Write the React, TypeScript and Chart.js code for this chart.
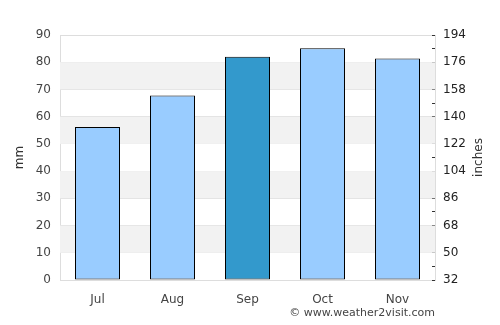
import { useEffect, useRef } from 'react';
import { Chart, registerables } from 'chart.js';
Chart.register(...registerables);

const months = ['Jul', 'Aug', 'Sep', 'Oct', 'Nov'];
const rainfallMm = [56.2, 67.8, 82.0, 85.1, 81.4];
const highlightMonth = 'Sep';
const bandRanges: [number, number][] = [[10, 20], [30, 40], [50, 60], [70, 80]];
const leftMin = 0;
const leftMax = 90;
const leftStep = 10;
const rightMin = 32;
const rightMax = 194;
const rightStep = 9;
const rightLabelStep = 18;
const leftTitle = 'mm';
const rightTitle = 'inches';
const credit = '© www.weather2visit.com';

const FONT = "'DejaVu Sans', sans-serif";

export default function App() {
  const ref = useRef<HTMLCanvasElement | null>(null);
  useEffect(() => {
    if (!ref.current) return;
    const bands = {
      id: 'bands',
      beforeDatasetsDraw(chart: any) {
        const { ctx, chartArea, scales } = chart;
        const y = scales.y;
        ctx.save();
        ctx.fillStyle = '#f2f2f2';
        for (const [a, b] of bandRanges) {
          const y1 = y.getPixelForValue(b);
          const y2 = y.getPixelForValue(a);
          ctx.fillRect(chartArea.left, y1, chartArea.right - chartArea.left, y2 - y1);
        }
        ctx.restore();
      },
    };
    const textPlugin = {
      id: 'texts',
      afterDraw(chart: any) {
        const { ctx, chartArea } = chart;
        ctx.save();
        ctx.font = `11px ${FONT}`;
        ctx.fillStyle = '#444';
        ctx.textAlign = 'right';
        ctx.textBaseline = 'middle';
        ctx.fillText(credit, chartArea.right, 313);
        ctx.restore();
        ctx.save();
        ctx.font = `12px ${FONT}`;
        ctx.fillStyle = '#333';
        ctx.textAlign = 'center';
        ctx.textBaseline = 'middle';
        ctx.translate(479, (chartArea.top + chartArea.bottom) / 2);
        ctx.rotate(-Math.PI / 2);
        ctx.fillText(rightTitle, 0, 0);
        ctx.restore();
      },
    };
    const chart = new Chart(ref.current, {
      type: 'bar',
      data: {
        labels: months,
        datasets: [
          {
            data: rainfallMm,
            backgroundColor: months.map((m) => (m === highlightMonth ? '#3399cc' : '#99ccff')),
            borderColor: '#000',
            borderWidth: 1,
            borderSkipped: false,
            barPercentage: 0.6,
            categoryPercentage: 1,
            yAxisID: 'y',
          },
        ],
      },
      options: {
        animation: false,
        responsive: false,
        layout: { padding: { top: 35, left: 0, right: 0, bottom: 0 } },
        plugins: { legend: { display: false }, tooltip: { enabled: false } },
        scales: {
          x: {
            grid: { display: false },
            border: { display: false },
            ticks: { color: '#444', font: { family: FONT, size: 12 }, padding: 5 },
            afterFit(s: any) { s.height = 45; },
          },
          y: {
            position: 'left',
            min: leftMin,
            max: leftMax,
            grid: { color: '#dddddd', drawTicks: false },
            border: { display: true, color: '#dddddd' },
            ticks: { stepSize: leftStep, color: '#444', font: { family: FONT, size: 12 }, padding: 9, autoSkip: false },
            title: { display: true, text: leftTitle, color: '#333', font: { family: FONT, size: 12 }, padding: { top: 13, bottom: 0 } },
            afterFit(s: any) { s.width = 60; },
          },
          y2: {
            position: 'right',
            min: rightMin,
            max: rightMax,
            grid: { drawOnChartArea: false, tickLength: -3, tickColor: '#333', color: '#333' },
            border: { display: true, color: '#dddddd' },
            ticks: {
              stepSize: rightStep,
              autoSkip: false,
              color: '#222',
              font: { family: FONT, size: 12 },
              padding: 11,
              callback: (v: any) => ((Number(v) - rightMin) % rightLabelStep === 0 ? String(v) : ''),
            },
            afterFit(s: any) { s.width = 65; },
          },
        },
      },
      plugins: [bands, textPlugin],
    });
    return () => chart.destroy();
  }, []);
  return (
    <div style={{ position: 'fixed', left: 0, top: 0, width: 500, height: 325, background: '#fff' }}>
      <canvas ref={ref} width={500} height={325} style={{ width: 500, height: 325 }} />
    </div>
  );
}
